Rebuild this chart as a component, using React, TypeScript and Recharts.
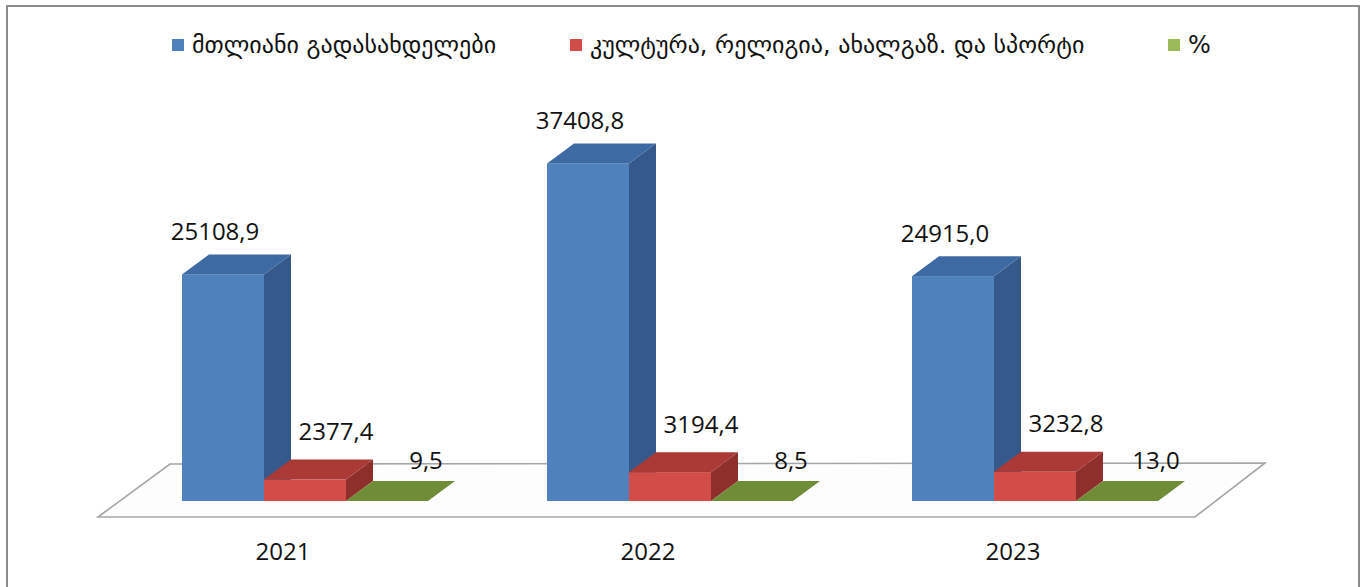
import React from 'react';
import { BarChart, Bar, XAxis, YAxis, LabelList } from 'recharts';

// years on the category axis
const years = ['2021', '2022', '2023'];
// total expenditures
const totalSpending = [25108.9, 37408.8, 24915.0];
// culture, religion, youth and sport
const cultureSpending = [2377.4, 3194.4, 3232.8];
// share, %
const sharePercent = [9.5, 8.5, 13.0];

const seriesNames = ['მთლიანი გადასახდელები', 'კულტურა, რელიგია, ახალგაზ. და სპორტი', '%'];

const chartData = years.map((y, i) => ({
  year: y,
  total: totalSpending[i],
  culture: cultureSpending[i],
  share: sharePercent[i],
}));

const W = 1367;
const H = 587;
const margin = { top: 140, right: 149.5, bottom: 56, left: 122.5 };
const plotLeft = margin.left;
const plotRight = W - margin.right;
const baseY = 501;

// depth of each 3d bar
const DX = 27;
const DY = 20;

const palettes = {
  total: { front: '#4f81bd', top: '#3e6aa3', side: '#35598a' },
  culture: { front: '#d24d48', top: '#ab3a36', side: '#8f2f2c' },
  share: { front: '#77933c', top: '#6f8d37', side: '#5c7a2e' },
};

const numFont = '"Open Sans", "Liberation Sans", sans-serif';

const fmt = (v: number) => v.toFixed(1).replace('.', ',');

const makeShape = (p: { front: string; top: string; side: string }) => (props: any) => {
  const { x, y, width, height } = props;
  if (x == null || y == null) return <g />;
  const w = width;
  const h = Math.max(height, 0);
  return (
    <g>
      <polygon
        points={`${x + w},${y} ${x + w + DX},${y - DY} ${x + w + DX},${y + h - DY} ${x + w},${y + h}`}
        fill={p.side}
      />
      <rect x={x} y={y} width={w} height={h} fill={p.front} />
      <polygon
        points={`${x},${y} ${x + w},${y} ${x + w + DX},${y - DY} ${x + DX},${y - DY}`}
        fill={p.top}
      />
    </g>
  );
};

const makeLabel = (offX: number, offY: number) => (props: any) => {
  const { x, y, width, value } = props;
  if (x == null || value == null) return null;
  return (
    <text
      x={x + width / 2 + offX}
      y={y + offY}
      textAnchor="middle"
      dominantBaseline="central"
      fontFamily={numFont}
      fontSize={24}
      fill="#111"
    >
      {fmt(Number(value))}
    </text>
  );
};

const YearTick = (props: any) => {
  const { x, payload } = props;
  return (
    <text
      x={x - 22}
      y={550}
      textAnchor="middle"
      dominantBaseline="central"
      fontFamily={numFont}
      fontSize={24}
      fill="#111"
    >
      {payload.value}
    </text>
  );
};

const legendItems = [
  { name: seriesNames[0], color: palettes.total.front, left: 172 },
  { name: seriesNames[1], color: palettes.culture.front, left: 570 },
  { name: seriesNames[2], color: '#9bbb59', left: 1168 },
];

export default function App() {
  // floor of the 3d plot, derived from the plot area
  const fl = [
    [plotLeft - 24.5, baseY + 16],
    [plotRight - 22.5, baseY + 16],
    [plotRight + 47.5, baseY - 38],
    [plotLeft + 47.5, baseY - 37],
  ];
  return (
    <div style={{ position: 'absolute', left: 0, top: 0, width: W, height: H, background: '#fff', overflow: 'hidden' }}>
      <svg width={W} height={H} style={{ position: 'absolute', left: 0, top: 0 }}>
        <rect x={7} y={6} width={1352} height={620} fill="#fff" stroke="#8c8c8c" strokeWidth={2} />
        <polygon points={fl.map((p) => p.join(',')).join(' ')} fill="#fdfdfd" stroke="#a6a6a6" strokeWidth={1.6} />
      </svg>
      <div style={{ position: 'absolute', left: 0, top: 0 }}>
        <BarChart width={W} height={H} data={chartData} margin={margin} barCategoryGap={59.5} barGap={0}>
          <XAxis dataKey="year" axisLine={false} tickLine={false} height={30} tick={<YearTick />} interval={0} />
          <YAxis hide domain={[0, 40000]} />
          <Bar dataKey="total" isAnimationActive={false} shape={makeShape(palettes.total)}>
            <LabelList dataKey="total" content={makeLabel(-8, -44)} />
          </Bar>
          <Bar dataKey="culture" isAnimationActive={false} shape={makeShape(palettes.culture)}>
            <LabelList dataKey="culture" content={makeLabel(31, -49)} />
          </Bar>
          <Bar dataKey="share" isAnimationActive={false} shape={makeShape(palettes.share)}>
            <LabelList dataKey="share" content={makeLabel(39, -41)} />
          </Bar>
        </BarChart>
      </div>
      {legendItems.map((it) => (
        <div
          key={it.name}
          style={{
            position: 'absolute',
            left: it.left,
            top: 29,
            height: 32,
            display: 'flex',
            alignItems: 'center',
            fontFamily: '"DejaVu Sans", sans-serif',
            fontSize: 24,
            color: '#111',
            whiteSpace: 'nowrap',
          }}
        >
          <span style={{ display: 'inline-block', width: 12, height: 12, background: it.color, marginRight: 8 }} />
          <span>{it.name}</span>
        </div>
      ))}
    </div>
  );
}
